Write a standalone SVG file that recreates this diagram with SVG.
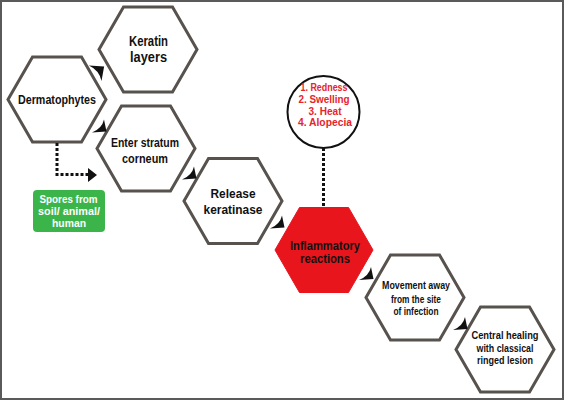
<svg xmlns="http://www.w3.org/2000/svg" xmlns:xlink="http://www.w3.org/1999/xlink" width="564" height="400" viewBox="0 0 564 400">
<style>
.hex{fill:#ffffff;stroke:#57524d;stroke-width:3;stroke-linejoin:miter}
.hexred{fill:#e8151d;stroke:#e8151d;stroke-width:1}
.t{font-family:"Liberation Sans",Arial,sans-serif;font-weight:bold;fill:#111111;text-anchor:middle}
.r{font-family:"Liberation Sans",Arial,sans-serif;font-weight:bold;fill:#e8232a;text-anchor:middle;font-size:10.5px}
.w{font-family:"Liberation Sans",Arial,sans-serif;font-weight:bold;fill:#ffffff;text-anchor:middle;font-size:10.5px}
.dot{fill:none;stroke:#111111;stroke-width:3;stroke-dasharray:3 2}
.ah{fill:#111111}
</style>
<defs>
<polygon id="hexshape" points="-49,0 -24.5,-42.5 24.5,-42.5 49,0 24.5,42.5 -24.5,42.5"/>
<path id="ahead" d="M0,0 L2.5,12 L-12,13 Q-2,9 0,0Z"/>
</defs>
<rect x="1" y="1" width="562" height="398" fill="#ffffff" stroke="#5a5a5a" stroke-width="2"/>

<g id="dermatophytes">
<use xlink:href="#hexshape" class="hex" transform="translate(57,99.5)"/>
<text class="t" x="57" y="104" font-size="13" textLength="78" lengthAdjust="spacingAndGlyphs">Dermatophytes</text>
</g>
<g id="keratin-layers">
<use xlink:href="#hexshape" class="hex" transform="translate(148,49.5)"/>
<text class="t" x="148.5" y="46" font-size="14.5" textLength="39" lengthAdjust="spacingAndGlyphs">Keratin</text>
<text class="t" x="148.5" y="62" font-size="14.5" textLength="37" lengthAdjust="spacingAndGlyphs">layers</text>
</g>
<g id="enter-stratum">
<use xlink:href="#hexshape" class="hex" transform="translate(146,148.5)"/>
<text class="t" x="145" y="147" font-size="13.5" textLength="68" lengthAdjust="spacingAndGlyphs">Enter stratum</text>
<text class="t" x="145" y="163" font-size="13.5" textLength="46" lengthAdjust="spacingAndGlyphs">corneum</text>
</g>
<g id="release-keratinase">
<use xlink:href="#hexshape" class="hex" transform="translate(233,201)"/>
<text class="t" x="233" y="198" font-size="12.5" textLength="45" lengthAdjust="spacingAndGlyphs">Release</text>
<text class="t" x="233" y="214" font-size="12.5" textLength="59" lengthAdjust="spacingAndGlyphs">keratinase</text>
</g>
<g id="inflammatory-reactions">
<use xlink:href="#hexshape" class="hexred" transform="translate(324,250)"/>
<text class="t" x="325" y="249.5" font-size="12" textLength="70" lengthAdjust="spacingAndGlyphs">Inflammatory</text>
<text class="t" x="325" y="263" font-size="12" textLength="50" lengthAdjust="spacingAndGlyphs">reactions</text>
</g>
<g id="symptoms">
<circle cx="323.5" cy="112" r="36" fill="#ffffff" stroke="#111111" stroke-width="2"/>
<text class="r" x="324" y="91" textLength="47" lengthAdjust="spacingAndGlyphs">1. Redness</text>
<text class="r" x="324" y="103" textLength="51" lengthAdjust="spacingAndGlyphs">2. Swelling</text>
<text class="r" x="325" y="114.5" textLength="33" lengthAdjust="spacingAndGlyphs">3. Heat</text>
<text class="r" x="325" y="126" textLength="54" lengthAdjust="spacingAndGlyphs">4. Alopecia</text>
</g>
<g id="movement-away">
<use xlink:href="#hexshape" class="hex" transform="translate(415,297.5)"/>
<text class="t" x="416" y="289" font-size="11" textLength="68" lengthAdjust="spacingAndGlyphs">Movement away</text>
<text class="t" x="416" y="302.5" font-size="11" textLength="50" lengthAdjust="spacingAndGlyphs">from the site</text>
<text class="t" x="416" y="315" font-size="11" textLength="45" lengthAdjust="spacingAndGlyphs">of infection</text>
</g>
<g id="central-healing">
<use xlink:href="#hexshape" class="hex" transform="translate(505,349.5)"/>
<text class="t" x="505" y="339" font-size="11" textLength="67" lengthAdjust="spacingAndGlyphs">Central healing</text>
<text class="t" x="505" y="352" font-size="11" textLength="57" lengthAdjust="spacingAndGlyphs">with classical</text>
<text class="t" x="505" y="364" font-size="11" textLength="56" lengthAdjust="spacingAndGlyphs">ringed lesion</text>
</g>
<g id="spores">
<rect x="33" y="190" width="72" height="42" rx="4" fill="#3bb54a"/>
<text class="w" x="68.5" y="203" textLength="58" lengthAdjust="spacingAndGlyphs">Spores from</text>
<text class="w" x="69" y="215" textLength="62" lengthAdjust="spacingAndGlyphs">soil/ animal/</text>
<text class="w" x="69" y="226.5" textLength="34" lengthAdjust="spacingAndGlyphs">human</text>
</g>

<g id="connectors">
<path class="dot" d="M57,143 V174.5 H88"/>
<polygon class="ah" points="88,168 97,175 88,182"/>
<path class="dot" d="M323.5,148 V207"/>
<use xlink:href="#ahead" class="ah" transform="translate(101.5,81) scale(1.05,-1.2)"/>
<use xlink:href="#ahead" class="ah" transform="translate(104,119.5)"/>
<use xlink:href="#ahead" class="ah" transform="translate(194,166.5)"/>
<use xlink:href="#ahead" class="ah" transform="translate(282,215.5)"/>
<use xlink:href="#ahead" class="ah" transform="translate(371,267)"/>
<use xlink:href="#ahead" class="ah" transform="translate(465,317)"/>
</g>
</svg>
